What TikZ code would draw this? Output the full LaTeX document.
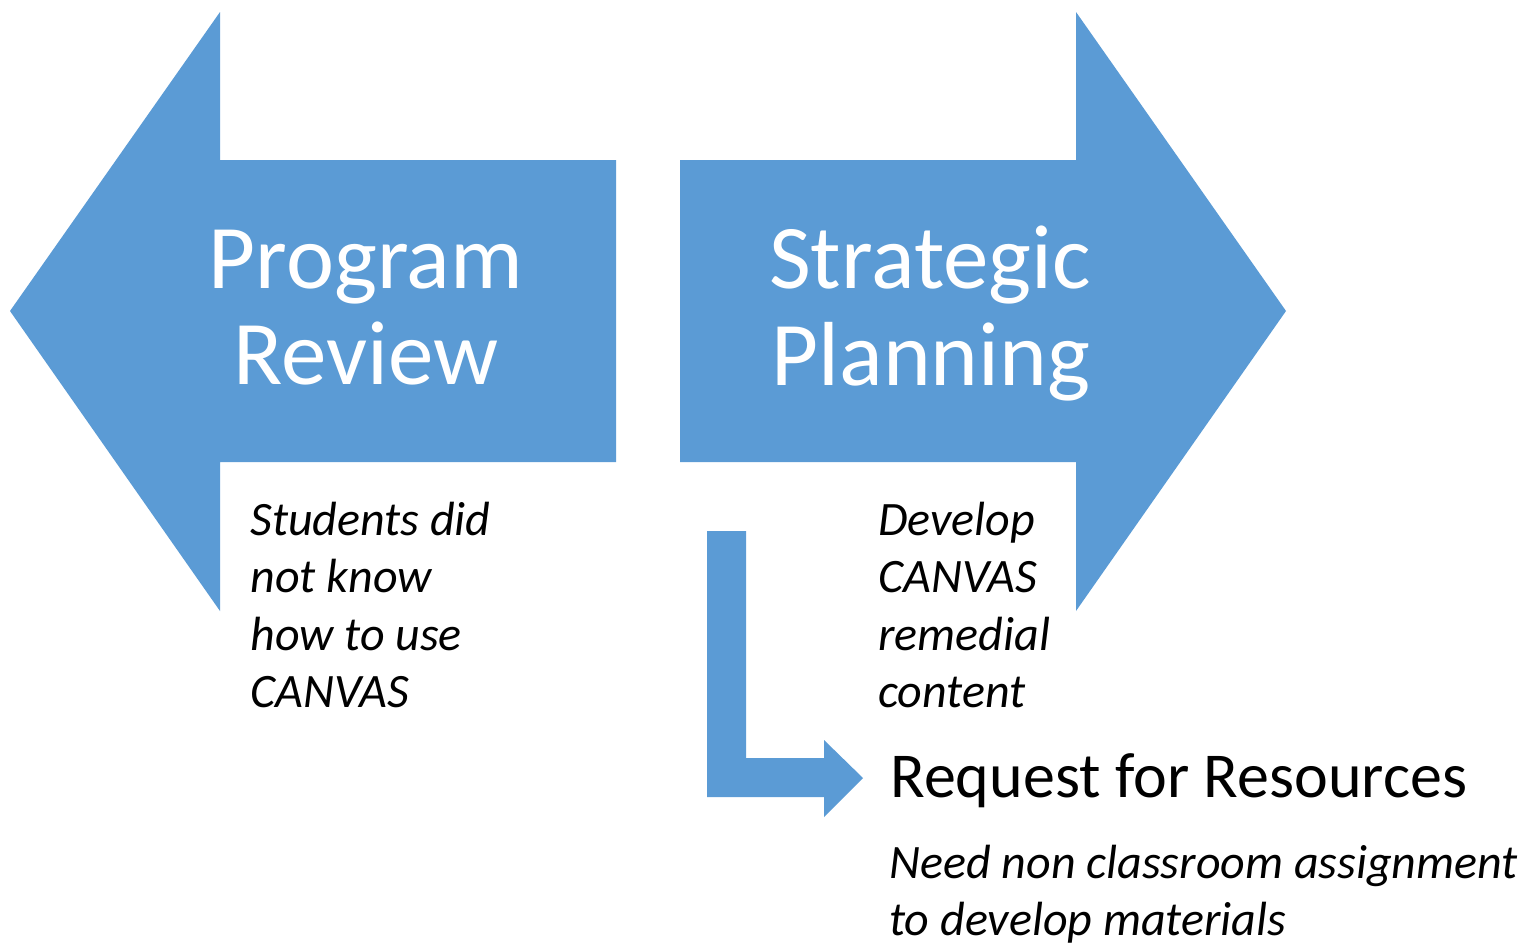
\documentclass[tikz,border=0pt]{standalone}
\usepackage{fontspec}
\setmainfont{Carlito}
\definecolor{arrowblue}{HTML}{5B9BD5}
\begin{document}
\begin{tikzpicture}[x=0.5pt,y=-0.5pt,
  shapefill/.style={fill=arrowblue,draw=none},
  bigtxt/.style={inner sep=0pt,anchor=base,text=white,font=\fontsize{45.5}{54}\selectfont},
  midtxt/.style={inner sep=0pt,anchor=base west,text=black,font=\fontsize{32}{38}\selectfont},
  smalltxt/.style={inner sep=0pt,anchor=base west,text=black,font=\fontsize{24}{29}\selectfont\itshape}]
\useasboundingbox (0,0) rectangle (1525,943);
% left arrow
\fill[shapefill] (10,311) -- (220,12) -- (220,160) -- (616,160) -- (616,462) -- (220,462) -- (220,611) -- cycle;
% right arrow
\fill[shapefill] (1286,311) -- (1076,12) -- (1076,160) -- (680,160) -- (680,462) -- (1076,462) -- (1076,611) -- cycle;
% bent arrow
\fill[shapefill] (707,531) -- (746,531) -- (746,758) -- (824,758) -- (824,740) -- (863,778) -- (824,817) -- (824,797) -- (707,797) -- cycle;
% titles
\node[bigtxt] (pr1) at (366,288) {Program};
\node[bigtxt] (pr2) at (366,384) {Review};
\node[bigtxt] (sp1) at (930,288) {Strategic};
\node[bigtxt] (sp2) at (931,385) {Planning};
% left notes
\node[smalltxt] (l1) at (250,535) {Students did};
\node[smalltxt] (l2) at (250,592) {not know};
\node[smalltxt] (l3) at (250,650) {how to use};
\node[smalltxt] (l4) at (250,707) {CANVAS};
% right notes
\node[smalltxt] (r1) at (878,535) {Develop};
\node[smalltxt] (r2) at (878,592) {CANVAS};
\node[smalltxt] (r3) at (878,650) {remedial};
\node[smalltxt] (r4) at (878,707) {content};
% request
\node[midtxt] (req) at (890,797) {Request for Resources};
\node[smalltxt] (n1) at (889,878) {Need non classroom assignment};
\node[smalltxt] (n2) at (889,935) {to develop materials};
\end{tikzpicture}
\end{document}
